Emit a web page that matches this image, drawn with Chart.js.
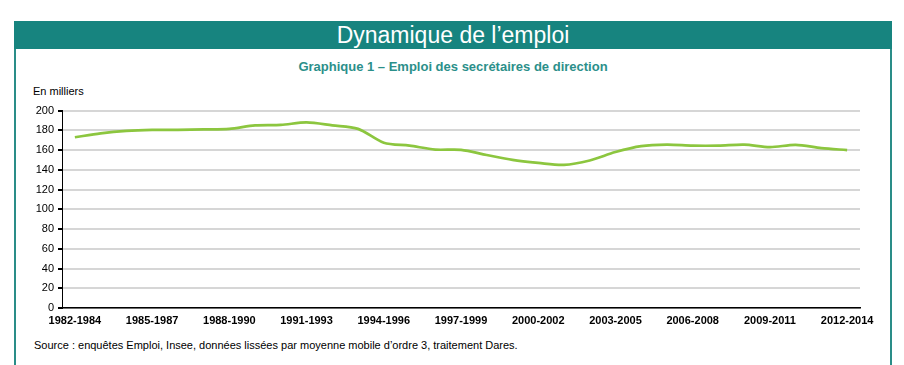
<!DOCTYPE html>
<html>
<head>
<meta charset="utf-8">
<script src="https://cdn.jsdelivr.net/npm/chart.js@4"></script>
<style>
  body { margin: 0; background: #fff; font-family: "Liberation Sans", Arial, sans-serif; }
  #banner {
    position: absolute; left: 14px; top: 21px; width: 878px; height: 28px;
    background: #17847f; color: #fff; font-size: 23px; line-height: 28px; text-align: center;
  }
  #box {
    position: absolute; left: 14px; top: 49px; width: 874px; height: 330px;
    border: 2px solid #2a8d88; border-top: none;
  }
  #subtitle {
    position: absolute; left: 14px; width: 878px; top: 59px; text-align: center;
    color: #2b8f8a; font-size: 13px; font-weight: bold;
  }
  #unit { position: absolute; left: 33px; top: 85px; font-size: 11px; color: #000; }
  #source { position: absolute; left: 34px; top: 339px; font-size: 11px; color: #000; }
  #wrap { position: absolute; left: 20px; top: 100px; width: 860px; height: 230px; }
</style>
</head>
<body>
<div id="banner">Dynamique de l’emploi</div>
<div id="box"></div>
<div id="subtitle">Graphique 1 – Emploi des secrétaires de direction</div>
<div id="unit">En milliers</div>
<div id="source">Source : enquêtes Emploi, Insee, données lissées par moyenne mobile d’ordre 3, traitement Dares.</div>
<div id="wrap"><canvas id="emploiChart"></canvas></div>
<script>
// périodes (moyennes mobiles sur 3 ans)
const periodes = [
  "1982-1984", "1983-1985", "1984-1986", "1985-1987", "1986-1988", "1987-1989",
  "1988-1990", "1989-1991", "1990-1992", "1991-1993", "1992-1994", "1993-1995",
  "1994-1996", "1995-1997", "1996-1998", "1997-1999", "1998-2000", "1999-2001",
  "2000-2002", "2001-2003", "2002-2004", "2003-2005", "2004-2006", "2005-2007",
  "2006-2008", "2007-2009", "2008-2010", "2009-2011", "2010-2012", "2011-2013",
  "2012-2014"
];
// emploi des secrétaires de direction, en milliers
const emploi = [
  173, 177, 179.5, 180.5, 180.5, 181, 181.5, 185, 185.5, 188, 185, 181.5,
  167.5, 164.5, 160.5, 160.3, 155, 150, 147, 145, 149.5, 158, 164, 165.5,
  164.5, 164.5, 165.5, 163, 165.3, 162, 160
];
const yTicks = [0, 20, 40, 60, 80, 100, 120, 140, 160, 180, 200];

const ctx = document.getElementById("emploiChart").getContext("2d");
const emploiChart = new Chart(ctx, {
  type: "line",
  data: {
    labels: periodes,
    datasets: [
      {
        label: "Emploi",
        data: emploi,
        borderColor: "#8cc63f",
        borderWidth: 2.7,
        pointRadius: 0,
        tension: 0.3,
        fill: false,
      },
    ],
  },
  options: {
    responsive: true,
    maintainAspectRatio: false,
    animation: false,
    layout: { padding: { top: 10, right: 20, left: 0, bottom: 0 } },
    plugins: { legend: { display: false }, tooltip: { enabled: false } },
    scales: {
      x: {
        offset: true,
        grid: { display: false, drawTicks: false, tickLength: 0 },
        border: { color: "#000", width: 1.5 },
        ticks: {
          autoSkip: false,
          maxRotation: 0,
          padding: 6,
          color: "#000",
          font: { family: "'Liberation Sans', Arial", size: 11, weight: "bold" },
          callback: function (value, index) {
            return index % 3 === 0 ? this.getLabelForValue(value) : "";
          },
        },
        afterFit: (s) => { s.height = 22; },
      },
      y: {
        min: yTicks[0],
        max: yTicks[yTicks.length - 1],
        grid: { color: "#d6d6d6", lineWidth: 2, tickColor: "#000", tickLength: 4 },
        border: { color: "#000", width: 1 },
        ticks: {
          stepSize: yTicks[1] - yTicks[0],
          padding: 4,
          color: "#000",
          font: { family: "'Liberation Sans', Arial", size: 11 },
        },
        afterFit: (s) => { s.width = 42; },
      },
    },
  },
});
</script>
</body>
</html>
